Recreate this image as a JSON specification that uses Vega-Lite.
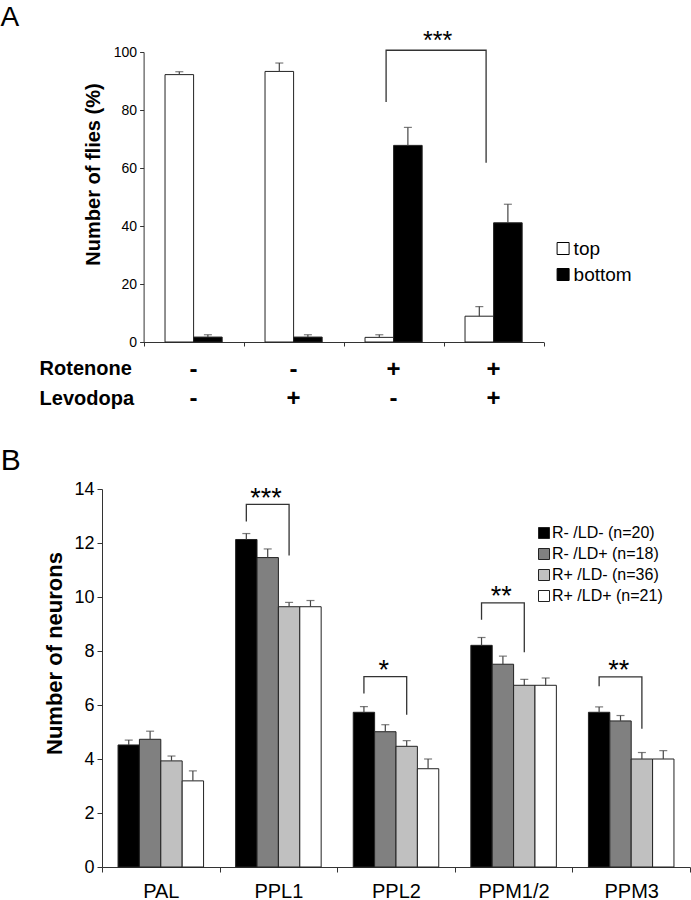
{
  "$schema": "https://vega.github.io/schema/vega-lite/v6.json",
  "padding": {"left": 0, "top": 3, "right": 0, "bottom": 0},
  "spacing": 33,
  "columns": 1,
  "align": "none",
  "config": {
    "font": "Liberation Sans",
    "view": {"stroke": null},
    "axis": {"domainColor": "#333", "tickColor": "#333", "labelColor": "#000", "titleColor": "#000", "grid": false}
  },
  "resolve": {"scale": {"color": "independent", "xOffset": "independent"}, "legend": {"color": "independent"}},
  "datasets": {
    "a": [
      {"g": "1", "pos": "top", "mean": 92.2, "hi": 93.2},
      {"g": "1", "pos": "bottom", "mean": 1.7, "hi": 2.5},
      {"g": "2", "pos": "top", "mean": 93.3, "hi": 96.2},
      {"g": "2", "pos": "bottom", "mean": 1.7, "hi": 2.5},
      {"g": "3", "pos": "top", "mean": 1.6, "hi": 2.5},
      {"g": "3", "pos": "bottom", "mean": 67.8, "hi": 74.0},
      {"g": "4", "pos": "top", "mean": 8.9, "hi": 12.2},
      {"g": "4", "pos": "bottom", "mean": 41.1, "hi": 47.5}
    ],
    "rows": [
      {"g": "1", "rot": "-", "lev": "-"},
      {"g": "2", "rot": "-", "lev": "+"},
      {"g": "3", "rot": "+", "lev": "-"},
      {"g": "4", "rot": "+", "lev": "+"}
    ],
    "abr": [
      {"g": "3", "y": 82.8, "o": 1},
      {"g": "3", "y": 100.6, "o": 2},
      {"g": "4", "y": 100.6, "o": 3},
      {"g": "4", "y": 61.8, "o": 4}
    ],
    "astar": [
      {"g": "3", "y": 100.6, "label": "***"}
    ],
    "b": [
      {"region": "PAL", "grp": "R- /LD- (n=20)", "mean": 4.52, "hi": 4.70},
      {"region": "PAL", "grp": "R- /LD+ (n=18)", "mean": 4.73, "hi": 5.03},
      {"region": "PAL", "grp": "R+ /LD- (n=36)", "mean": 3.93, "hi": 4.11},
      {"region": "PAL", "grp": "R+ /LD+ (n=21)", "mean": 3.19, "hi": 3.56},
      {"region": "PPL1", "grp": "R- /LD- (n=20)", "mean": 12.13, "hi": 12.35},
      {"region": "PPL1", "grp": "R- /LD+ (n=18)", "mean": 11.46, "hi": 11.78},
      {"region": "PPL1", "grp": "R+ /LD- (n=36)", "mean": 9.64, "hi": 9.80},
      {"region": "PPL1", "grp": "R+ /LD+ (n=21)", "mean": 9.64, "hi": 9.87},
      {"region": "PPL2", "grp": "R- /LD- (n=20)", "mean": 5.73, "hi": 5.94},
      {"region": "PPL2", "grp": "R- /LD+ (n=18)", "mean": 5.01, "hi": 5.27},
      {"region": "PPL2", "grp": "R+ /LD- (n=36)", "mean": 4.47, "hi": 4.68},
      {"region": "PPL2", "grp": "R+ /LD+ (n=21)", "mean": 3.64, "hi": 4.00},
      {"region": "PPM1/2", "grp": "R- /LD- (n=20)", "mean": 8.21, "hi": 8.50},
      {"region": "PPM1/2", "grp": "R- /LD+ (n=18)", "mean": 7.51, "hi": 7.81},
      {"region": "PPM1/2", "grp": "R+ /LD- (n=36)", "mean": 6.73, "hi": 6.95},
      {"region": "PPM1/2", "grp": "R+ /LD+ (n=21)", "mean": 6.73, "hi": 7.00},
      {"region": "PPM3", "grp": "R- /LD- (n=20)", "mean": 5.73, "hi": 5.93},
      {"region": "PPM3", "grp": "R- /LD+ (n=18)", "mean": 5.41, "hi": 5.61},
      {"region": "PPM3", "grp": "R+ /LD- (n=36)", "mean": 4.00, "hi": 4.24},
      {"region": "PPM3", "grp": "R+ /LD+ (n=21)", "mean": 4.00, "hi": 4.31}
    ],
    "bbr": [
      {"br": 1, "region": "PPL1", "grp": "R- /LD- (n=20)", "y": 12.8, "o": 1},
      {"br": 1, "region": "PPL1", "grp": "R- /LD- (n=20)", "y": 13.43, "o": 2},
      {"br": 1, "region": "PPL1", "grp": "R+ /LD- (n=36)", "y": 13.43, "o": 3},
      {"br": 1, "region": "PPL1", "grp": "R+ /LD- (n=36)", "y": 11.54, "o": 4},
      {"br": 2, "region": "PPL2", "grp": "R- /LD- (n=20)", "y": 6.43, "o": 1},
      {"br": 2, "region": "PPL2", "grp": "R- /LD- (n=20)", "y": 7.05, "o": 2},
      {"br": 2, "region": "PPL2", "grp": "R+ /LD- (n=36)", "y": 7.05, "o": 3},
      {"br": 2, "region": "PPL2", "grp": "R+ /LD- (n=36)", "y": 5.64, "o": 4},
      {"br": 3, "region": "PPM1/2", "grp": "R- /LD- (n=20)", "y": 9.16, "o": 1},
      {"br": 3, "region": "PPM1/2", "grp": "R- /LD- (n=20)", "y": 9.78, "o": 2},
      {"br": 3, "region": "PPM1/2", "grp": "R+ /LD- (n=36)", "y": 9.78, "o": 3},
      {"br": 3, "region": "PPM1/2", "grp": "R+ /LD- (n=36)", "y": 7.95, "o": 4},
      {"br": 4, "region": "PPM3", "grp": "R- /LD- (n=20)", "y": 6.69, "o": 1},
      {"br": 4, "region": "PPM3", "grp": "R- /LD- (n=20)", "y": 7.04, "o": 2},
      {"br": 4, "region": "PPM3", "grp": "R+ /LD- (n=36)", "y": 7.04, "o": 3},
      {"br": 4, "region": "PPM3", "grp": "R+ /LD- (n=36)", "y": 5.12, "o": 4}
    ],
    "bstar": [
      {"region": "PPL1", "y": 13.43, "label": "***"},
      {"region": "PPL2", "y": 7.05, "label": "*"},
      {"region": "PPM1/2", "y": 9.78, "label": "**"},
      {"region": "PPM3", "y": 7.04, "label": "**"}
    ]
  },
  "concat": [
    {
      "width": 441.6,
      "height": 290,
      "layer": [
        {
          "data": {"name": "a"},
          "mark": {"type": "bar", "stroke": "#222", "strokeWidth": 1},
          "encoding": {
            "x": {"field": "g", "type": "nominal", "scale": {"domain": ["1", "2", "3", "4"], "range": [41.6, 441.6], "paddingInner": 0, "paddingOuter": 0},
              "axis": {"tickBand": "extent", "labels": false, "title": null, "tickSize": 4}},
            "xOffset": {"field": "pos", "type": "nominal", "scale": {"domain": ["top", "bottom"], "paddingInner": 0, "paddingOuter": 0.75}},
            "y": {"field": "mean", "type": "quantitative", "scale": {"domain": [0, 100], "nice": false},
              "axis": {"values": [0, 20, 40, 60, 80, 100], "offset": -41.6, "tickSize": 4, "labelFontSize": 14, "labelPadding": 3,
                "title": "Number of flies (%)", "titleFontSize": 20, "titleFontWeight": "bold", "titleY": 122, "titlePadding": 10}},
            "color": {"field": "pos", "type": "nominal", "scale": {"domain": ["top", "bottom"], "range": ["#ffffff", "#000000"]},
              "legend": {"title": null, "orient": "none", "legendX": 451.6, "legendY": 187, "symbolType": "square", "symbolSize": 144,
                "symbolStrokeColor": "#000", "symbolStrokeWidth": 1, "labelFontSize": 19, "labelOffset": 1, "rowPadding": 6, "padding": 0}}
          }
        },
        {
          "data": {"name": "a"},
          "mark": {"type": "rule", "color": "#444", "strokeWidth": 1.2},
          "encoding": {
            "x": {"field": "g", "type": "nominal"},
            "xOffset": {"field": "pos", "type": "nominal"},
            "y": {"field": "mean", "type": "quantitative"},
            "y2": {"field": "hi"}
          }
        },
        {
          "data": {"name": "a"},
          "mark": {"type": "tick", "orient": "horizontal", "color": "#444", "thickness": 1.2, "size": 8},
          "encoding": {
            "x": {"field": "g", "type": "nominal"},
            "xOffset": {"field": "pos", "type": "nominal"},
            "y": {"field": "hi", "type": "quantitative"}
          }
        },
        {
          "data": {"name": "rows"},
          "mark": {"type": "text", "fontSize": 24, "fontWeight": "bold", "baseline": "alphabetic"},
          "encoding": {
            "x": {"field": "g", "type": "nominal"},
            "y": {"datum": -12.07, "type": "quantitative"},
            "text": {"field": "rot"}
          }
        },
        {
          "data": {"name": "rows"},
          "mark": {"type": "text", "fontSize": 24, "fontWeight": "bold", "baseline": "alphabetic"},
          "encoding": {
            "x": {"field": "g", "type": "nominal"},
            "y": {"datum": -22.24, "type": "quantitative"},
            "text": {"field": "lev"}
          }
        },
        {
          "data": {"name": "abr"},
          "mark": {"type": "line", "color": "#333", "strokeWidth": 1.3},
          "encoding": {
            "x": {"field": "g", "type": "nominal", "bandPosition": 0.425},
            "y": {"field": "y", "type": "quantitative"},
            "order": {"field": "o"}
          }
        },
        {
          "data": {"name": "astar"},
          "mark": {"type": "text", "fontSize": 25, "baseline": "alphabetic", "dy": -1.5},
          "encoding": {
            "x": {"field": "g", "type": "nominal", "bandPosition": 0.94},
            "y": {"field": "y", "type": "quantitative"},
            "text": {"field": "label"}
          }
        },
        {
          "data": {"values": [{"g": "1"}]},
          "mark": {"type": "text", "text": "A", "fontSize": 28, "align": "left", "baseline": "alphabetic"},
          "encoding": {
            "x": {"field": "g", "type": "nominal", "bandPosition": -1.43},
            "y": {"datum": 109, "type": "quantitative"}
          }
        },
        {
          "data": {"values": [{"g": "1"}]},
          "mark": {"type": "text", "text": "Rotenone", "fontSize": 20, "fontWeight": "bold", "align": "left", "baseline": "alphabetic"},
          "encoding": {
            "x": {"field": "g", "type": "nominal", "bandPosition": -1.04},
            "y": {"datum": -11.38, "type": "quantitative"}
          }
        },
        {
          "data": {"values": [{"g": "1"}]},
          "mark": {"type": "text", "text": "Levodopa", "fontSize": 20, "fontWeight": "bold", "align": "left", "baseline": "alphabetic"},
          "encoding": {
            "x": {"field": "g", "type": "nominal", "bandPosition": -1.04},
            "y": {"datum": -21.83, "type": "quantitative"}
          }
        }
      ]
    },
    {
      "width": 588,
      "height": 378,
      "layer": [
        {
          "data": {"name": "b"},
          "mark": {"type": "bar", "stroke": "#222", "strokeWidth": 1},
          "encoding": {
            "x": {"field": "region", "type": "nominal", "scale": {"domain": ["PAL", "PPL1", "PPL2", "PPM1/2", "PPM3"], "paddingInner": 0, "paddingOuter": 0},
              "axis": {"tickBand": "extent", "labelAngle": 0, "labelFontSize": 20, "labelPadding": 9, "title": null, "tickSize": 5}},
            "xOffset": {"field": "grp", "type": "nominal", "scale": {"domain": ["R- /LD- (n=20)", "R- /LD+ (n=18)", "R+ /LD- (n=36)", "R+ /LD+ (n=21)"], "paddingInner": 0, "paddingOuter": 0.75}},
            "y": {"field": "mean", "type": "quantitative", "scale": {"domain": [0, 14], "nice": false},
              "axis": {"values": [0, 2, 4, 6, 8, 10, 12, 14], "tickSize": 5, "labelFontSize": 18, "labelPadding": 3,
                "title": "Number of neurons", "titleFontSize": 22, "titleFontWeight": "bold", "titleY": 164, "titlePadding": 7}},
            "color": {"field": "grp", "type": "nominal",
              "scale": {"domain": ["R- /LD- (n=20)", "R- /LD+ (n=18)", "R+ /LD- (n=36)", "R+ /LD+ (n=21)"], "range": ["#000000", "#808080", "#c0c0c0", "#ffffff"]},
              "legend": {"title": null, "orient": "none", "legendX": 434, "legendY": 36, "symbolType": "square", "symbolSize": 121,
                "symbolStrokeColor": "#222", "symbolStrokeWidth": 1, "labelFontSize": 16, "labelOffset": 0, "rowPadding": 5, "padding": 0}}
          }
        },
        {
          "data": {"name": "b"},
          "mark": {"type": "rule", "color": "#444", "strokeWidth": 1.2},
          "encoding": {
            "x": {"field": "region", "type": "nominal"},
            "xOffset": {"field": "grp", "type": "nominal"},
            "y": {"field": "mean", "type": "quantitative"},
            "y2": {"field": "hi"}
          }
        },
        {
          "data": {"name": "b"},
          "mark": {"type": "tick", "orient": "horizontal", "color": "#444", "thickness": 1.2, "size": 8},
          "encoding": {
            "x": {"field": "region", "type": "nominal"},
            "xOffset": {"field": "grp", "type": "nominal"},
            "y": {"field": "hi", "type": "quantitative"}
          }
        },
        {
          "data": {"name": "bbr"},
          "mark": {"type": "line", "color": "#333", "strokeWidth": 1.3},
          "encoding": {
            "x": {"field": "region", "type": "nominal"},
            "xOffset": {"field": "grp", "type": "nominal"},
            "y": {"field": "y", "type": "quantitative"},
            "detail": {"field": "br", "type": "nominal"},
            "order": {"field": "o"}
          }
        },
        {
          "data": {"name": "bstar"},
          "mark": {"type": "text", "fontSize": 27, "baseline": "alphabetic", "dy": 2.5},
          "encoding": {
            "x": {"field": "region", "type": "nominal", "bandPosition": 0.395},
            "y": {"field": "y", "type": "quantitative"},
            "text": {"field": "label"}
          }
        },
        {
          "data": {"values": [{"region": "PAL"}]},
          "mark": {"type": "text", "text": "B", "fontSize": 30, "align": "left", "baseline": "alphabetic"},
          "encoding": {
            "x": {"field": "region", "type": "nominal", "bandPosition": -0.862},
            "y": {"datum": 14.72, "type": "quantitative"}
          }
        }
      ]
    }
  ]
}
